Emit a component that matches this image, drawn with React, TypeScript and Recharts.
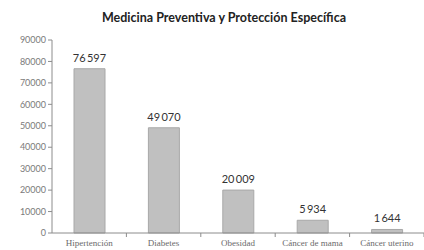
import React from "react";
import { BarChart, Bar, XAxis, YAxis, LabelList } from "recharts";

const categories = ["Hipertención", "Diabetes", "Obesidad", "Cáncer de mama", "Cáncer uterino"];
const values = [76597, 49070, 20009, 5934, 1644];
const yTicks = [0, 10000, 20000, 30000, 40000, 50000, 60000, 70000, 80000, 90000];

const data = categories.map((name, i) => ({ name, value: values[i] }));

const formatValue = (v: any) => {
  const s = String(v);
  return s.length > 3 ? s.slice(0, s.length - 3) + "\u2009" + s.slice(-3) : s;
};

const BAND = 74.4;

const XTick = (props: any) => {
  const { x, y, payload } = props;
  return (
    <g>
      <line x1={x + BAND / 2} x2={x + BAND / 2} y1={y - 8} y2={y - 4} stroke="#8c8c8c" />
      <text
        x={x}
        y={y + 5}
        textAnchor="middle"
        fill="#6a6a6a"
        fontSize={9}
        fontFamily="'Liberation Serif', serif"
      >
        {payload.value}
      </text>
    </g>
  );
};

export default function App() {
  return (
    <div style={{ position: "absolute", left: 0, top: 0, width: 424, height: 250, background: "#fff" }}>
      <div
        style={{
          position: "absolute",
          top: 10,
          left: 0,
          width: 448,
          textAlign: "center",
          fontFamily: "Lato, sans-serif",
          fontWeight: "bold",
          fontSize: 12.5,
          color: "#222",
        }}
      >
        Medicina Preventiva y Protección Específica
      </div>
      <BarChart
        width={424}
        height={250}
        data={data}
        margin={{ top: 40, right: 0, bottom: 0, left: 7 }}
        barCategoryGap={0}
      >
        <XAxis
          dataKey="name"
          axisLine={{ stroke: "#8c8c8c" }}
          tickLine={false}
          tick={<XTick />}
          interval={0}
          height={17}
        />
        <YAxis
          width={45}
          domain={[0, 90000]}
          ticks={yTicks}
          interval={0}
          axisLine={{ stroke: "#8c8c8c" }}
          tickLine={{ stroke: "#8c8c8c" }}
          tickSize={4}
          tick={{ fill: "#7a7a7a", fontSize: 9, fontFamily: "Lato, sans-serif" }}
        />
        <Bar dataKey="value" fill="#c0c0c0" stroke="#a8a8a8" barSize={31} isAnimationActive={false}>
          <LabelList
            dataKey="value"
            position="top"
            offset={7}
            formatter={formatValue}
            fill="#333"
            fontSize={11}
            fontFamily="Lato, sans-serif"
          />
        </Bar>
      </BarChart>
    </div>
  );
}
